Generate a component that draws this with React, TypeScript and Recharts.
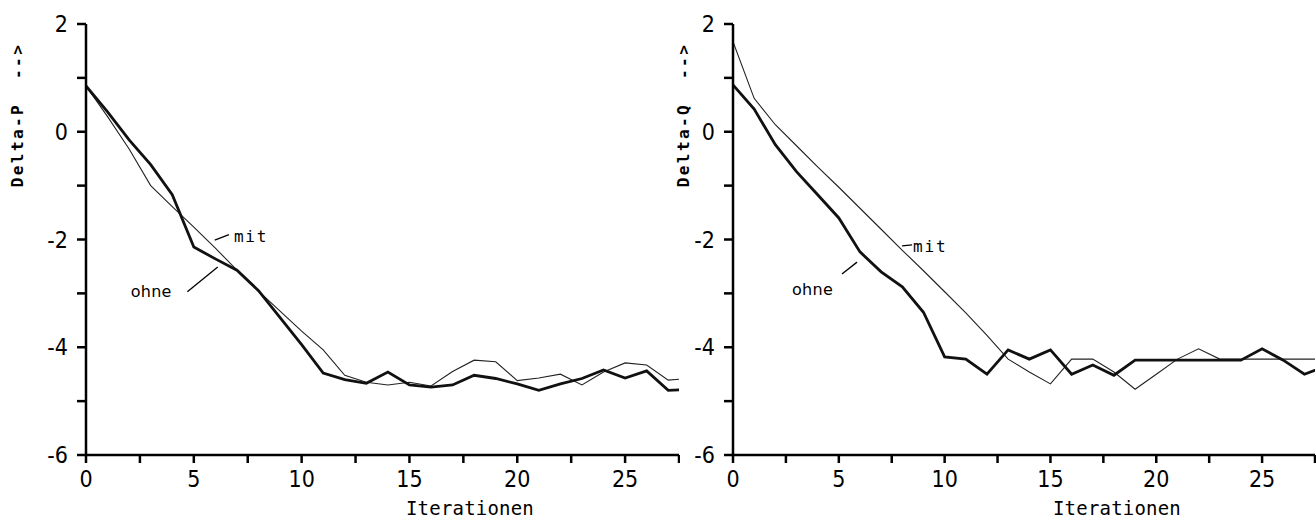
import { Label, Line, LineChart, ReferenceDot, ReferenceLine, XAxis, YAxis } from "recharts";

// Iterationen (x), the last one is cut by the axis end at 27.5
const ITERATIONEN = [0, 1, 2, 3, 4, 5, 6, 7, 8, 9, 10, 11, 12, 13, 14, 15, 16, 17, 18, 19, 20, 21, 22, 23, 24, 25, 26, 27, 28];

// Delta-P
const P_MIT = [0.85, 0.28, -0.32, -1.0, -1.39, -1.77, -2.16, -2.57, -2.96, -3.33, -3.7, -4.05, -4.52, -4.65, -4.7, -4.65, -4.72, -4.45, -4.24, -4.27, -4.62, -4.57, -4.5, -4.7, -4.46, -4.29, -4.33, -4.61, -4.58];
const P_OHNE = [0.85, 0.37, -0.15, -0.61, -1.17, -2.14, -2.36, -2.57, -2.95, -3.45, -3.95, -4.48, -4.6, -4.67, -4.46, -4.7, -4.74, -4.7, -4.52, -4.58, -4.68, -4.8, -4.68, -4.58, -4.42, -4.57, -4.44, -4.8, -4.78];

// Delta-Q
const Q_MIT = [1.67, 0.62, 0.13, -0.26, -0.65, -1.03, -1.42, -1.81, -2.2, -2.58, -2.97, -3.36, -3.78, -4.22, -4.46, -4.68, -4.22, -4.22, -4.46, -4.78, -4.5, -4.22, -4.03, -4.22, -4.22, -4.22, -4.22, -4.22, -4.22];
const Q_OHNE = [0.87, 0.42, -0.24, -0.74, -1.17, -1.6, -2.23, -2.6, -2.88, -3.35, -4.18, -4.22, -4.5, -4.05, -4.22, -4.05, -4.5, -4.33, -4.52, -4.24, -4.24, -4.24, -4.24, -4.24, -4.24, -4.03, -4.24, -4.5, -4.35];

const X_TICKS = [0, 2.5, 5, 7.5, 10, 12.5, 15, 17.5, 20, 22.5, 25, 27.5];
const X_LABELED = [0, 5, 10, 15, 20, 25];
const Y_TICKS = [-6, -5, -4, -3, -2, -1, 0, 1, 2];
const Y_LABELED = [-6, -4, -2, 0, 2];

const INK = "#000";
const NUM_FONT = "'Liberation Sans Narrow', 'DejaVu Sans Condensed', 'Liberation Sans', sans-serif";
const MONO_FONT = "'DejaVu Sans Mono', 'Liberation Mono', monospace";

type Note = {
  text: string;
  at: [number, number];
  lead: [[number, number], [number, number]];
  mono?: boolean;
};

function Panel({
  mit,
  ohne,
  yLabel,
  width,
  axisWidth,
  yLabelX,
  notes
}: {
  mit: number[];
  ohne: number[];
  yLabel: string;
  width: number;
  axisWidth: number;
  yLabelX: number;
  notes: Note[];
}) {
  const data = ITERATIONEN.map((it, k) => ({ it, mit: mit[k], ohne: ohne[k] }));

  return (
    <LineChart width={width} height={518} data={data} margin={{ top: 24, right: 1, bottom: 0, left: 0 }}>
      <XAxis
        dataKey="it"
        type="number"
        domain={[0, 27.5]}
        ticks={X_TICKS}
        allowDataOverflow
        height={63}
        stroke={INK}
        strokeWidth={2.5}
        tickSize={8}
        tickMargin={8}
        tickLine
        tick={{ fontSize: 23, fontFamily: NUM_FONT, fill: INK }}
        tickFormatter={(v: number) => (X_LABELED.includes(v) ? String(v) : "")}
      >
        <Label
          content={({ viewBox }: any) => (
            <text
              x={viewBox.x + 384}
              y={viewBox.y + 60}
              textAnchor="middle"
              fontFamily={MONO_FONT}
              fontSize={19}
              letterSpacing={0.2}
              fill={INK}
            >
              Iterationen
            </text>
          )}
        />
      </XAxis>
      <YAxis
        type="number"
        domain={[-6, 2]}
        ticks={Y_TICKS}
        width={axisWidth}
        stroke={INK}
        strokeWidth={2.5}
        tickSize={9}
        tickMargin={9}
        tickLine
        tick={{ fontSize: 23, fontFamily: NUM_FONT, fill: INK }}
        tickFormatter={(v: number) => (Y_LABELED.includes(v) ? String(v) : "")}
      >
        <Label
          content={() => (
            <text
              x={yLabelX}
              y={115}
              transform={`rotate(-90, ${yLabelX}, 115)`}
              textAnchor="middle"
              fontFamily={MONO_FONT}
              fontSize={16}
              fontWeight="bold"
              letterSpacing={2.4}
              fill={INK}
              style={{ whiteSpace: "pre" }}
            >
              {yLabel}
            </text>
          )}
        />
      </YAxis>

      <Line type="linear" dataKey="mit" stroke="#222" strokeWidth={1.1} dot={false} isAnimationActive={false} />
      <Line type="linear" dataKey="ohne" stroke="#111" strokeWidth={2.8} dot={false} isAnimationActive={false} />

      {notes.map((n) => (
        <ReferenceLine
          key={`l-${n.text}`}
          segment={[
            { x: n.lead[0][0], y: n.lead[0][1] },
            { x: n.lead[1][0], y: n.lead[1][1] }
          ]}
          stroke={INK}
          strokeWidth={1.3}
        />
      ))}
      {notes.map((n) => (
        <ReferenceDot
          key={`t-${n.text}`}
          x={n.at[0]}
          y={n.at[1]}
          r={0}
          shape={(p: any) => (
            <text
              x={p.cx}
              y={p.cy}
              fontFamily={n.mono ? MONO_FONT : "'DejaVu Sans', sans-serif"}
              fontSize={16}
              letterSpacing={n.mono ? 1.8 : 0.3}
              fill={INK}
            >
              {n.text}
            </text>
          )}
        />
      ))}
    </LineChart>
  );
}

export default function App() {
  return (
    <div style={{ position: "absolute", left: 0, top: 0, width: 1316, height: 518, background: "#fff" }}>
      <div style={{ position: "absolute", left: 0, top: 0 }}>
        <Panel
          mit={P_MIT}
          ohne={P_OHNE}
          yLabel="Delta-P  -->"
          width={680}
          axisWidth={86}
          yLabelX={23}
          notes={[
            { text: "mit", at: [6.86, -2.04], lead: [[5.97, -2.01], [6.63, -1.91]], mono: true },
            { text: "ohne", at: [2.07, -3.07], lead: [[4.7, -2.97], [6.11, -2.51]] }
          ]}
        />
      </div>
      <div style={{ position: "absolute", left: 660, top: 0 }}>
        <Panel
          mit={Q_MIT}
          ohne={Q_OHNE}
          yLabel="Delta-Q  -->"
          width={656}
          axisWidth={73}
          yLabelX={29}
          notes={[
            { text: "mit", at: [8.51, -2.23], lead: [[7.99, -2.12], [8.46, -2.1]], mono: true },
            { text: "ohne", at: [2.79, -3.03], lead: [[5.15, -2.64], [5.86, -2.42]] }
          ]}
        />
      </div>
    </div>
  );
}
